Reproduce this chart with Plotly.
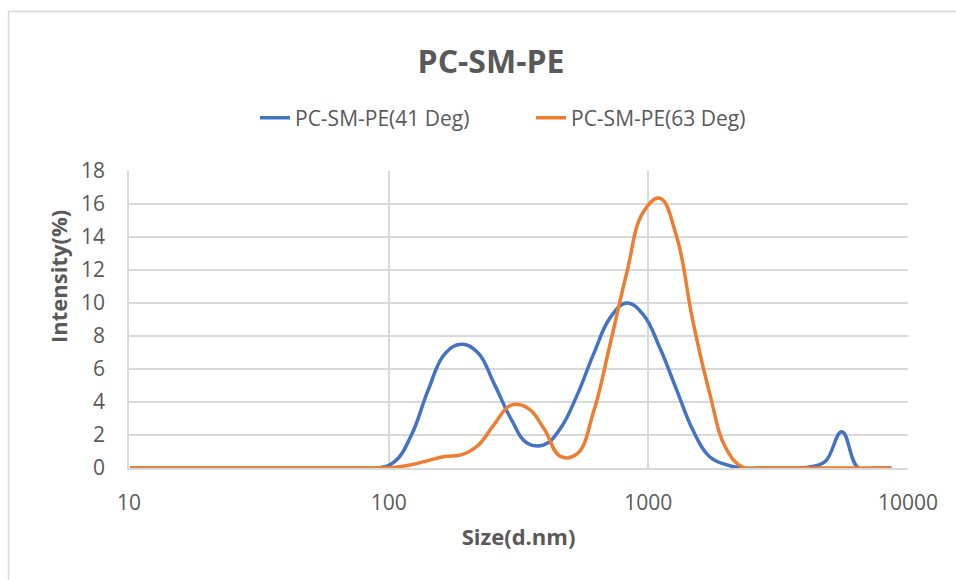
import plotly.graph_objects as go

# Particle size bins (d.nm) and intensity distributions (%)
sizes = [10.1, 11.7, 13.54, 15.69, 18.17, 21.04, 24.36, 28.21, 32.67, 37.84,
         43.82, 50.75, 58.77, 68.06, 78.82, 91.28, 105.7, 122.4, 141.8, 164.2,
         190.1, 220.2, 255.0, 295.3, 342.0, 396.1, 458.7, 531.2, 615.1, 712.4,
         825.0, 955.4, 1106, 1281, 1484, 1718, 1990, 2305, 2669, 3091,
         3580, 4145, 4801, 5560, 6439, 7456, 8635]

intensity_41 = [0, 0, 0, 0, 0, 0, 0, 0, 0, 0,
                0, 0, 0, 0, 0, 0, 0.4, 2.0, 4.7, 6.9,
                7.5, 7.0, 5.1, 3.0, 1.5, 1.4, 2.4, 4.4, 6.9, 9.1,
                10.0, 9.3, 7.3, 4.8, 2.3, 0.7, 0.2, 0, 0, 0,
                0, 0.05, 0.4, 2.2, 0, 0, 0]

intensity_63 = [0, 0, 0, 0, 0, 0, 0, 0, 0, 0,
                0, 0, 0, 0, 0, 0, 0.05, 0.2, 0.45, 0.7,
                0.8, 1.35, 2.65, 3.8, 3.65, 2.4, 0.7, 0.85, 3.4, 7.5,
                11.8, 15.5, 16.35, 14.1, 8.9, 4.6, 1.2, 0.05, 0, 0,
                0, 0, 0, 0, 0, 0, 0]

series_names = ["PC-SM-PE(41 Deg)", "PC-SM-PE(63 Deg)"]
x_tick_vals = [10, 100, 1000, 10000]
x_tick_text = ["10", "100", "1000", "10000"]

W, H = 956, 580
ML, MR, MT, MB = 129, 48, 171, 112
PW, PH = W - ML - MR, H - MT - MB

TEXT = "#595959"
GRID = "#d9d9d9"
FONT = "Open Sans"

fig = go.Figure()
fig.add_trace(go.Scatter(x=sizes, y=intensity_41, name=series_names[0], mode="lines",
                         line=dict(color="#4472C4", width=3.5, shape="spline", smoothing=1.2)))
fig.add_trace(go.Scatter(x=sizes, y=intensity_63, name=series_names[1], mode="lines",
                         line=dict(color="#ED7D31", width=3.5, shape="spline", smoothing=1.2)))

def px_to_paper_x(px):
    return (px - ML) / PW

def py_to_paper_y(py):
    return (H - MB - py) / PH

# chart-area frame (left and top edges)
bx0, by0 = px_to_paper_x(8.5), py_to_paper_y(11.5)
bx1, by1 = px_to_paper_x(W + 40), py_to_paper_y(H + 40)
fig.add_shape(type="path", xref="paper", yref="paper",
              path=f"M {bx0} {by1} L {bx0} {by0} L {bx1} {by0}",
              line=dict(color=GRID, width=1.5), layer="below")

fig.update_layout(
    width=W, height=H,
    margin=dict(l=ML, r=MR, t=MT, b=MB),
    paper_bgcolor="white", plot_bgcolor="white",
    font=dict(family=FONT, color=TEXT, size=21),
    title=dict(text="<b>PC-SM-PE</b>", xref="container", x=491 / W, xanchor="center",
               yref="container", y=1 - 62 / H, yanchor="middle",
               font=dict(family=FONT, size=32, color=TEXT)),
    showlegend=True,
    legend=dict(orientation="h", xref="container", x=255 / W, xanchor="left",
                yref="container", y=1 - 118 / H, yanchor="middle",
                font=dict(family=FONT, size=21, color=TEXT),
                entrywidth=231, entrywidthmode="pixels",
                bgcolor="rgba(0,0,0,0)"),
    xaxis=dict(type="log", range=[1, 4], tickvals=x_tick_vals, ticktext=x_tick_text,
               showgrid=True, gridcolor=GRID, gridwidth=1.8,
               showline=True, linecolor=GRID, linewidth=1.8,
               ticks="", ticklabelstandoff=15, zeroline=False,
               title=dict(text="<b>Size(d.nm)</b>", standoff=15,
                          font=dict(family=FONT, size=22, color=TEXT))),
    yaxis=dict(range=[0, 18], dtick=2, showgrid=True, gridcolor=GRID, gridwidth=1.8,
               showline=True, linecolor=GRID, linewidth=1.8,
               ticks="", ticklabelstandoff=18, zeroline=False),
    annotations=[dict(text="<b>Intensity(%)</b>", textangle=-90, xref="paper", yref="paper",
                      x=px_to_paper_x(58), y=py_to_paper_y(277), xanchor="center", yanchor="middle",
                      showarrow=False, font=dict(family=FONT, size=22, color=TEXT))],
)

fig.write_html("out.html")
